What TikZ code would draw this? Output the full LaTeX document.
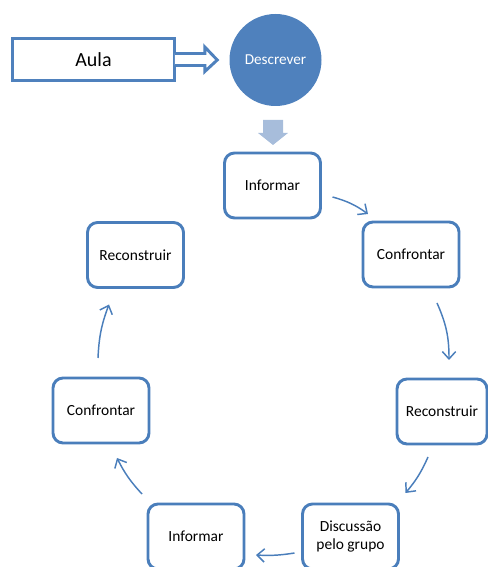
\documentclass[tikz,border=0pt]{standalone}
\usepackage{fontspec}
\setmainfont{Carlito}
\usetikzlibrary{calc,arrows.meta}
\definecolor{cycleblue}{HTML}{4A7EBB}
\definecolor{hubfill}{HTML}{4F81BD}
\definecolor{paleblue}{HTML}{A7BDDB}

\begin{document}
\begin{tikzpicture}[
  x=0.75pt, y=0.75pt,
  box/.style={draw=cycleblue, line width=2.2pt, rounded corners=7.5pt, fill=white,
              minimum width=72pt, minimum height=48.75pt, align=center, outer sep=0pt,
              font=\fontsize{11.6}{14}\selectfont},
  aulabox/.style={draw=hubfill, line width=2.2pt, minimum width=122pt, minimum height=32pt,
                  outer sep=0pt, font=\fontsize{15}{18}\selectfont},
  hub/.style={circle, fill=hubfill, text=white, minimum size=69pt, inner sep=0pt,
              font=\fontsize{11.4}{14}\selectfont},
  flow/.style={draw=cycleblue, line width=1.1pt, -{Straight Barb[length=5.5pt,width=10pt]}},
  hollow/.style={draw=hubfill, line width=2.2pt, fill=white, line join=miter}
]
\useasboundingbox (0,0) rectangle (488,567);

\node[aulabox] (aula) at (93.5,507.5) {Aula};
\node[hub]     (desc) at (275.5,507)  {Descrever};

\node[box]                       (inf1)  at (272.5,381.5) {Informar};
\node[box]                       (conf1) at (411,312.5)   {Confrontar};
\node[box, minimum width=67.5pt] (rec2)  at (442,155.5)   {Reconstruir};
\node[box]                       (disc)  at (350.5,30.5)  {Discussão\\pelo grupo};
\node[box]                       (inf2)  at (196,30.5)    {Informar};
\node[box]                       (conf2) at (101,156.5)   {Confrontar};
\node[box]                       (rec1)  at (135.5,312)   {Reconstruir};

% hollow arrow Aula -> Descrever
\draw[hollow] ($(aula.east)+(0,6)$) -- ++(30,0) -- ++(0,6.5) -- ($(desc.west)+(-12,0)$)
  -- ($(aula.east)+(30,-12)$) -- ++(0,6) -- ($(aula.east)+(0,-6)$);

% block arrow down to the cycle
\fill[paleblue] ($(inf1.north)+(-9.5,33)$) -- ++(20,0) -- ++(0,-13) -- ++(5,0)
  -- ++(-15,-12) -- ++(-15,12) -- ++(5,0) -- cycle;

% cycle
\draw[flow] ($(inf1.east)+(12,-11.5)$)        to[bend left=10] ($(conf1.north west)+(5,8)$);
\draw[flow] ($(conf1.south east)+(-22,-16)$)  to[bend left=12] ($(rec2.north)+(7,19)$);
\draw[flow] ($(rec2.south)+(-14,-13)$)        to[bend left=8]  ($(disc.north east)+(7,11)$);
\draw[flow] ($(disc.west)+(-8,-16.5)$)        to[bend left=6]  ($(inf2.east)+(12,-18.5)$);
\draw[flow] ($(inf2.north west)+(-6,10)$)     to[bend left=8]  ($(conf2.south)+(16,-15)$);
\draw[flow] ($(conf2.north)+(-3,20)$)         to[bend left=9]  ($(rec1.south)+(-26.5,-17)$);
\end{tikzpicture}
\end{document}
